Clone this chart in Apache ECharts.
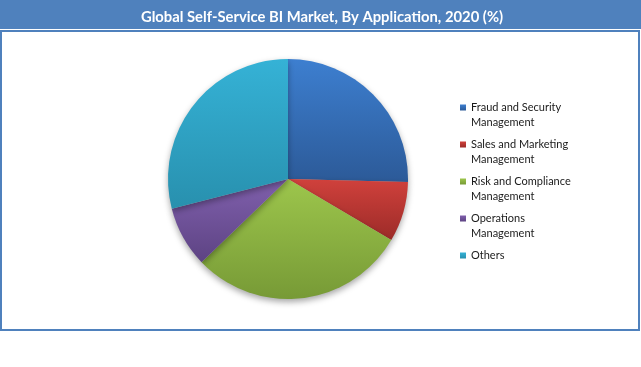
<!DOCTYPE html>
<html>
<head>
<meta charset="utf-8">
<script src="https://cdn.jsdelivr.net/npm/echarts@6/dist/echarts.min.js"></script>
<style>
html,body{margin:0;padding:0;background:#fff;}
#chart{width:641px;height:367px;}
</style>
</head>
<body>
<div id="chart"></div>
<script>
const titleText = 'Global Self-Service BI Market, By Application, 2020 (%)';
const categories = [
  'Fraud and Security\nManagement',
  'Sales and Marketing\nManagement',
  'Risk and Compliance\nManagement',
  'Operations\nManagement',
  'Others'
];
const values = [25.4, 8.1, 29.3, 8.2, 29.0];
const topColors = ['#3d7fd0', '#d0413c', '#9dc64c', '#8060ad', '#35b2d6'];
const bottomColors = ['#2c5a98', '#9c2b28', '#779a36', '#5d4383', '#2890ae'];

const chart = echarts.init(document.getElementById('chart'), null, {renderer: 'canvas'});

const data = categories.map((c, i) => ({
  name: c,
  value: values[i],
  itemStyle: {
    color: new echarts.graphic.LinearGradient(0, 0, 0, 1, [
      {offset: 0, color: topColors[i]},
      {offset: 1, color: bottomColors[i]}
    ])
  }
}));

chart.setOption({
  animation: false,
  backgroundColor: '#ffffff',
  title: {
    text: titleText,
    left: 317,
    top: 5,
    textAlign: 'center',
    textStyle: {color: '#ffffff', fontFamily: 'Lato', fontWeight: 'bold', fontSize: 14.8}
  },
  graphic: [
    {type: 'rect', z: -10, shape: {x: 0, y: 0, width: 641, height: 29}, style: {fill: '#4f81bd'}},
    {type: 'rect', z: -10, shape: {x: 1, y: 31, width: 638, height: 299}, style: {fill: 'none', stroke: '#4f81bd', lineWidth: 2}}
  ],
  legend: {
    orient: 'vertical',
    left: 455,
    top: 80,
    itemWidth: 6,
    itemHeight: 6,
    itemGap: -8,
    icon: 'rect',
    selectedMode: false,
    data: categories,
    formatter: function (name) {
      // put the marker beside the first line of each label
      return name.indexOf('\n') >= 0 ? '\n' + name : '\n' + name + '\n';
    },
    textStyle: {fontFamily: 'Lato', fontSize: 11, color: '#1a1a1a', lineHeight: 15}
  },
  series: [{
    type: 'pie',
    center: [288, 179],
    radius: 120,
    startAngle: 90,
    clockwise: true,
    label: {show: false},
    labelLine: {show: false},
    emphasis: {disabled: true},
    itemStyle: {shadowColor: 'rgba(0,0,0,0.35)', shadowBlur: 6, shadowOffsetY: 3},
    data: data
  }]
});
</script>
</body>
</html>
